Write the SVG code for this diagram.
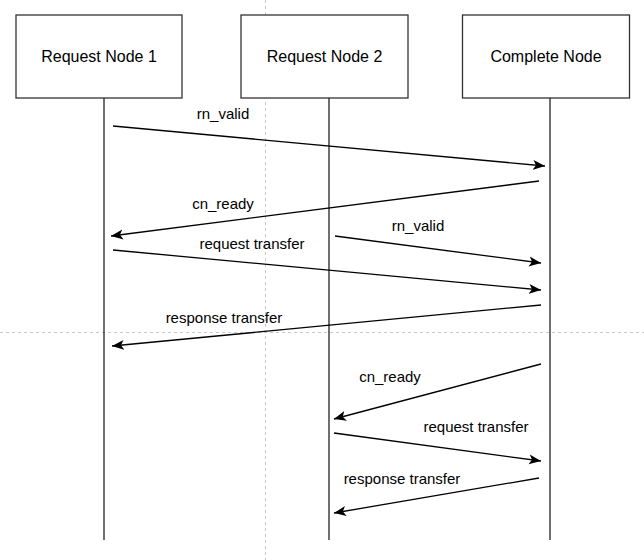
<svg xmlns="http://www.w3.org/2000/svg" width="644" height="560" viewBox="0 0 644 560">
<style>
.box{fill:#fff;stroke:#333;stroke-width:1.3}
.life{stroke:#222;stroke-width:1.3;fill:none}
.msg{stroke:#000;stroke-width:1.3;fill:none;marker-end:url(#arr)}
.grid{stroke:#c8c8c8;stroke-width:1;stroke-dasharray:3 3;fill:none}
.t{font-family:"Liberation Sans",Arial,sans-serif;font-size:16px;fill:#000;text-anchor:middle}
.l{font-family:"Liberation Sans",Arial,sans-serif;font-size:15px;fill:#000;text-anchor:middle}
</style>
<defs>
<marker id="arr" markerUnits="userSpaceOnUse" markerWidth="14" markerHeight="12" refX="12" refY="5" orient="auto" viewBox="0 0 14 10">
<path d="M0,0 L12,5 L0,10 L3,5 z" fill="#000"/>
</marker>
</defs>
<rect width="644" height="560" fill="#fff"/>
<g id="guides">
<line class="grid" x1="265.5" y1="0" x2="265.5" y2="560"/>
<line class="grid" x1="0" y1="332.5" x2="644" y2="332.5"/>
</g>
<g id="rn1">
<rect class="box" x="16" y="15" width="166" height="83"/>
<text class="t" x="99" y="62">Request Node 1</text>
<line class="life" x1="104" y1="98" x2="104" y2="540"/>
</g>
<g id="rn2">
<rect class="box" x="241" y="15" width="167" height="83"/>
<text class="t" x="324.5" y="62">Request Node 2</text>
<line class="life" x1="329" y1="98" x2="329" y2="540"/>
</g>
<g id="cn">
<rect class="box" x="462.5" y="15" width="167" height="83"/>
<text class="t" x="546" y="62">Complete Node</text>
<line class="life" x1="550" y1="98" x2="550" y2="540"/>
</g>
<g id="connectors">
<line class="msg" x1="113" y1="126" x2="545" y2="166"/>
<line class="msg" x1="539" y1="181" x2="111" y2="236"/>
<line class="msg" x1="335" y1="236" x2="541" y2="263"/>
<line class="msg" x1="113" y1="250" x2="541" y2="290"/>
<line class="msg" x1="541" y1="305" x2="112" y2="346"/>
<line class="msg" x1="541" y1="364" x2="334" y2="419"/>
<line class="msg" x1="334" y1="433" x2="541" y2="461"/>
<line class="msg" x1="539" y1="478" x2="334" y2="513"/>
</g>
<g id="labels">
<text class="l" x="223" y="119">rn_valid</text>
<text class="l" x="223" y="209">cn_ready</text>
<text class="l" x="418" y="231">rn_valid</text>
<text class="l" x="252" y="249">request transfer</text>
<text class="l" x="224" y="323">response transfer</text>
<text class="l" x="390" y="382">cn_ready</text>
<text class="l" x="476" y="432">request transfer</text>
<text class="l" x="402" y="484">response transfer</text>
</g>
</svg>
